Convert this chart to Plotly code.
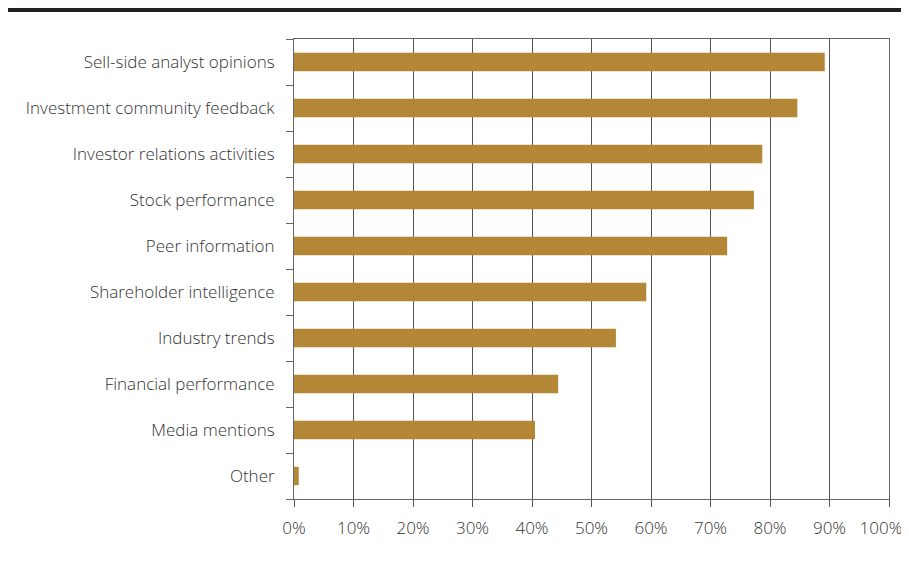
import plotly.graph_objects as go

categories = [
    "Sell-side analyst opinions",
    "Investment community feedback",
    "Investor relations activities",
    "Stock performance",
    "Peer information",
    "Shareholder intelligence",
    "Industry trends",
    "Financial performance",
    "Media mentions",
    "Other",
]
values = [89.2, 84.6, 78.7, 77.3, 72.8, 59.2, 54.1, 44.4, 40.5, 0.8]
x_ticks = [0, 10, 20, 30, 40, 50, 60, 70, 80, 90, 100]
x_tick_labels = ["0%", "10%", "20%", "30%", "40%", "50%", "60%", "70%", "80%", "90%", "100%"]

label_font = dict(family="Open Sans", size=17, color="#333333", weight=300)

fig = go.Figure(
    go.Bar(
        x=values,
        y=categories,
        orientation="h",
        marker=dict(color="#b38736", line=dict(width=0)),
        width=0.4,
    )
)
# empty helper trace so the overlay axis (last tick label, nudged left) is drawn
fig.add_trace(go.Scatter(x=[], y=[], xaxis="x2", showlegend=False, hoverinfo="skip"))

# page body has an 8px default margin, so the figure is 8px smaller and shifted
fig.update_layout(
    width=901,
    height=556,
    margin=dict(l=286, r=20, t=31, b=65, autoexpand=False),
    paper_bgcolor="white",
    plot_bgcolor="white",
    showlegend=False,
    font=label_font,
    shapes=[
        dict(
            type="rect",
            xref="paper",
            yref="paper",
            x0=-0.5,
            x1=1.05,
            y0=1.0587,
            y1=1.08,
            fillcolor="#231f20",
            line=dict(width=0),
            layer="above",
        )
    ],
    xaxis2=dict(
        overlaying="x",
        side="bottom",
        matches="x",
        range=[0, 100],
        tickvals=x_ticks[-1:],
        ticktext=x_tick_labels[-1:],
        ticks="",
        showgrid=False,
        showline=False,
        zeroline=False,
        automargin=False,
        ticklabeloverflow="allow",
        ticklabelstandoff=17,
        ticklabelshift=-8,
        tickfont=label_font,
        fixedrange=True,
    ),
)

fig.layout.xaxis.update(
    range=[0, 100],
    tickvals=x_ticks,
    ticktext=x_tick_labels[:-1] + [""],
    showgrid=True,
    gridcolor="#555555",
    gridwidth=1,
    showline=True,
    linecolor="#666666",
    linewidth=1,
    mirror=True,
    ticks="outside",
    ticklen=7,
    tickcolor="#555555",
    zeroline=False,
    automargin=False,
    ticklabeloverflow="allow",
    ticklabelstandoff=7,
    tickfont=label_font,
    fixedrange=True,
)

fig.update_yaxes(
    categoryorder="array",
    categoryarray=categories[::-1],
    autorange=False,
    range=[-0.5, 9.5],
    tickson="boundaries",
    ticks="outside",
    ticklen=7,
    tickcolor="#666666",
    showgrid=False,
    showline=True,
    linecolor="#666666",
    linewidth=1,
    mirror=True,
    automargin=False,
    ticklabelstandoff=15,
    tickfont=label_font,
    fixedrange=True,
)

fig.write_html("out.html")
